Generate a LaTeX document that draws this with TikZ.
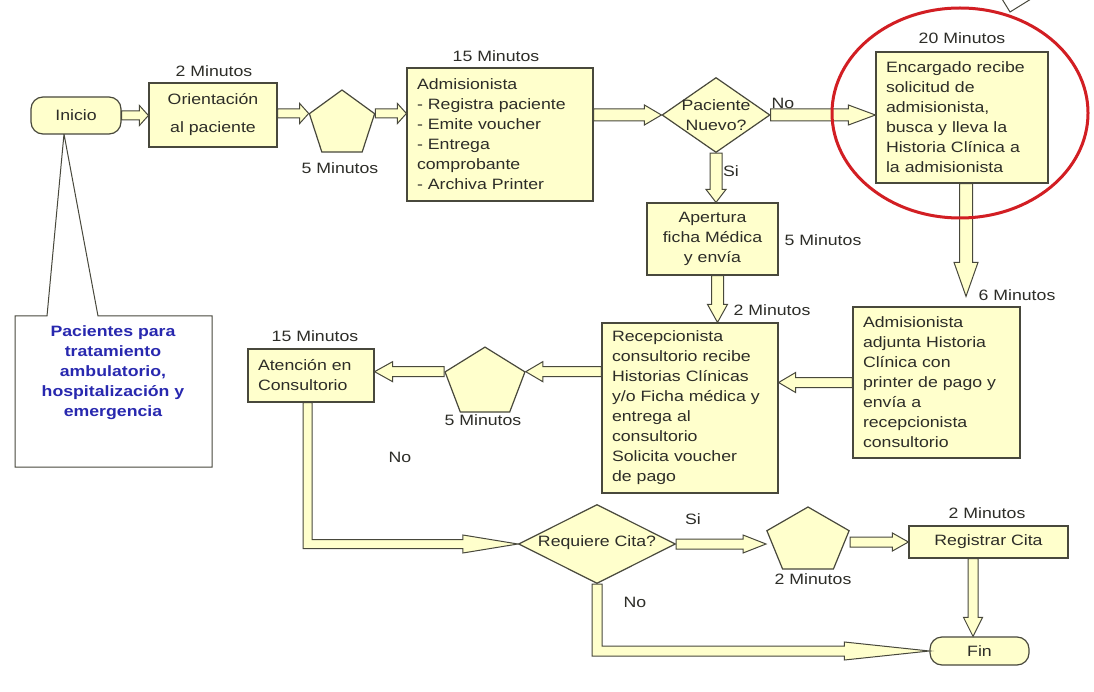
\documentclass[tikz,border=0pt]{standalone}
\usepackage{fontspec}
\setmainfont{Liberation Sans}[FakeStretch=1.18]
\usetikzlibrary{calc,shapes.geometric}
\definecolor{yel}{RGB}{255,255,204}
\definecolor{linec}{RGB}{72,72,60}
\definecolor{txtc}{RGB}{45,45,40}
\definecolor{bluet}{RGB}{40,40,175}
\definecolor{redc}{RGB}{210,30,35}
% horizontal block arrow: from, to, half shaft, half head, head length
\newcommand{\hblk}[5]{\draw[blk] let \p1=(#1), \p2=(#2), \n1={sign(\x2-\x1)} in
  ({\x1},{\y1+#3}) -- ({\x2-(\n1)*#5},{\y1+#3}) -- ({\x2-(\n1)*#5},{\y1+#4}) -- ({\x2},{\y1})
  -- ({\x2-(\n1)*#5},{\y1-#4}) -- ({\x2-(\n1)*#5},{\y1-#3}) -- ({\x1},{\y1-#3}) -- cycle;}
% vertical block arrow
\newcommand{\vblk}[5]{\draw[blk] let \p1=(#1), \p2=(#2), \n1={sign(\y2-\y1)} in
  ({\x1+#3},{\y1}) -- ({\x1+#3},{\y2-(\n1)*#5}) -- ({\x1+#4},{\y2-(\n1)*#5}) -- ({\x1},{\y2})
  -- ({\x1-#4},{\y2-(\n1)*#5}) -- ({\x1-#3},{\y2-(\n1)*#5}) -- ({\x1-#3},{\y1}) -- cycle;}
% elbow block arrow: down, then right
\newcommand{\eblk}[5]{\draw[blk] let \p1=(#1), \p2=(#2) in
  ({\x1-#3},{\y1}) -- ({\x1-#3},{\y2-#3}) -- ({\x2-#5},{\y2-#3}) -- ({\x2-#5},{\y2-#4}) -- ({\x2},{\y2})
  -- ({\x2-#5},{\y2+#4}) -- ({\x2-#5},{\y2+#3}) -- ({\x1+#3},{\y2+#3}) -- ({\x1+#3},{\y1}) -- cycle;}
\begin{document}
\begin{tikzpicture}[x=1pt,y=-1pt,
  every node/.style={font=\fontsize{15}{20}\selectfont, text=txtc},
  box/.style={draw=linec, fill=yel, line width=1.2pt, inner sep=0pt},
  lbox/.style={box, align=left, inner xsep=10pt},
  cbox/.style={box, align=center},
  term/.style={box, rounded corners=12pt},
  dia/.style={box, diamond, aspect=1.5},
  pent/.style={box, regular polygon, regular polygon sides=5, transform shape},
  lab/.style={inner sep=0pt},
  blk/.style={draw=linec, fill=yel, line width=1pt, line join=miter},
  callline/.style={draw=linec, fill=white, line width=1pt},
]
\fill[white] (0,0) rectangle (1094,692);
\useasboundingbox (0,0) rectangle (1094,692);

% callout
\draw[callline] (47,316) -- (15,316) -- (15,467) -- (212,467) -- (212,316) -- (98,316) -- (64,134) -- cycle;
\node[lab, align=center, font=\bfseries\fontsize{15}{20}\selectfont, text=bluet] (cbt) at (113,373)
  {Pacientes para\\tratamiento\\ambulatorio,\\hospitalización y\\emergencia};

% nodes
\node[term, minimum width=90, minimum height=37] (ini) at (76,115.5) {Inicio};
\node[cbox, minimum width=128, minimum height=64, font=\fontsize{15}{28}\selectfont] (ori) at (213,115) {Orientación\\al paciente};
\node[pent, minimum size=68.6] (p1) at (342,124.3) {};
\node[lbox, minimum width=186, minimum height=133, text width=166pt] (adm) at (500,134.5)
  {Admisionista\\- Registra paciente\\- Emite voucher\\- Entrega\\comprobante\\- Archiva Printer};
\node[dia, minimum width=108, minimum height=75] (pn) at (716,115) {};
\node[lab, align=center] (pnt) at (716,115) {Paciente\\Nuevo?};
\node[lbox, minimum width=172, minimum height=131, text width=152pt] (enc) at (962,117.5)
  {Encargado recibe\\solicitud de\\admisionista,\\busca y lleva la\\Historia Clínica a\\la admisionista};
\node[cbox, minimum width=131, minimum height=72] (ape) at (712.5,239) {Apertura\\ficha Médica\\y envía};
\node[lbox, minimum width=167, minimum height=151, text width=147pt] (adj) at (936.5,382.5)
  {Admisionista\\adjunta Historia\\Clínica con\\printer de pago y\\envía a\\recepcionista\\consultorio};
\node[lbox, minimum width=176, minimum height=170, text width=156pt] (rec) at (690,408)
  {Recepcionista\\consultorio recibe\\Historias Clínicas\\y/o Ficha médica y\\entrega al\\consultorio\\Solicita voucher\\de pago};
\node[pent, minimum size=71.8, xscale=1.17] (p2) at (485,383) {};
\node[lbox, minimum width=126, minimum height=53, text width=106pt] (att) at (311,375.5) {Atención en\\Consultorio};
\node[dia, minimum width=157, minimum height=79] (req) at (597,544) {};
\node[lab] (reqt) at (597,543) {Requiere Cita?};
\node[pent, minimum size=68.6, xscale=1.26] (p3) at (808,541.3) {};
\node[cbox, minimum width=159, minimum height=32] (reg) at (988.5,542) {Registrar Cita};
\node[term, minimum width=99, minimum height=28] (fin) at (979.5,651) {Fin};

% labels
\node[lab] (l1) at (214,71) {2 Minutos};
\node[lab] (l2) at (340,168) {5 Minutos};
\node[lab] (l3) at (496,56) {15 Minutos};
\node[lab] (l4) at (783,103) {No};
\node[lab] (l5) at (962,38) {20 Minutos};
\node[lab] (l6) at (731,171) {Si};
\node[lab] (l7) at (823,240) {5 Minutos};
\node[lab] (l8) at (1017,295) {6 Minutos};
\node[lab] (l9) at (772,310) {2 Minutos};
\node[lab] (l10) at (315,336) {15 Minutos};
\node[lab] (l11) at (483,420) {5 Minutos};
\node[lab] (l12) at (400,457) {No};
\node[lab] (l13) at (693,519) {Si};
\node[lab] (l14) at (635,602) {No};
\node[lab] (l15) at (813,579) {2 Minutos};
\node[lab] (l16) at (987,513) {2 Minutos};

% connectors
\hblk{ini.east}{ori.west}{4.5pt}{10pt}{9pt}
\hblk{ori.east |- p1.corner 2}{p1.corner 2}{4.5pt}{10pt}{9pt}
\hblk{p1.corner 5}{adm.west |- p1.corner 5}{4.5pt}{10pt}{9pt}
\hblk{adm.east |- pn.west}{pn.west}{6pt}{10pt}{17pt}
\hblk{pn.east}{enc.west |- pn.east}{6pt}{10pt}{27pt}
\vblk{pn.south}{ape.north}{6pt}{10pt}{13pt}
\vblk{$(enc.south)+(4,0)$}{$(adj.north)+(0,-10)$}{6.5pt}{12pt}{34pt}
\vblk{$(ape.south)+(5,0)$}{rec.north}{6pt}{10pt}{18pt}
\hblk{adj.west}{rec.east |- adj.west}{5pt}{10pt}{17pt}
\hblk{rec.west |- p2.corner 5}{p2.corner 5}{5pt}{10pt}{17pt}
\hblk{p2.corner 2}{att.east |- p2.corner 2}{5pt}{10pt}{18pt}
\eblk{$(att.south)+(-3.5,0)$}{req.west}{4.5pt}{9pt}{55pt}
\hblk{req.east}{p3.corner 2 |- req.east}{5pt}{9pt}{23pt}
\hblk{p3.corner 5 |- reg.west}{reg.west}{5pt}{9pt}{16pt}
\vblk{$(reg.south)+(-15.5,0)$}{fin.north}{5pt}{9.5pt}{19pt}
\eblk{req.south}{fin.west}{5pt}{9pt}{85pt}

% highlight
\draw[redc, line width=3pt] (960,113) ellipse [x radius=128pt, y radius=105pt];
\draw[linec, line width=1pt] (1002,-1) -- (1010,12) -- (1031,-1);
\end{tikzpicture}
\end{document}
